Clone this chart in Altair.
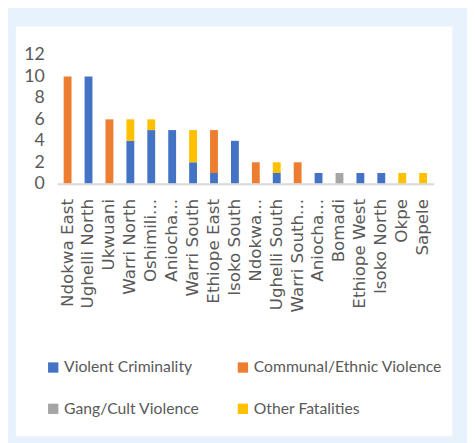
import altair as alt
import pandas as pd

categories = ["Ndokwa East", "Ughelli North", "Ukwuani", "Warri North", "Oshimili South",
              "Aniocha North", "Warri South", "Ethiope East", "Isoko South", "Ndokwa West",
              "Ughelli South", "Warri South West", "Aniocha South", "Bomadi", "Ethiope West",
              "Isoko North", "Okpe", "Sapele"]
tick_labels = ["Ndokwa East", "Ughelli North", "Ukwuani", "Warri North", "Oshimili...",
               "Aniocha...", "Warri South", "Ethiope East", "Isoko South", "Ndokwa...",
               "Ughelli South", "Warri South...", "Aniocha...", "Bomadi", "Ethiope West",
               "Isoko North", "Okpe", "Sapele"]
series = ["Violent Criminality", "Communal/Ethnic Violence", "Gang/Cult Violence", "Other Fatalities"]
violent = [0, 10, 0, 4, 5, 5, 2, 1, 4, 0, 1, 0, 1, 0, 1, 1, 0, 0]
communal = [10, 0, 6, 0, 0, 0, 0, 4, 0, 2, 0, 2, 0, 0, 0, 0, 0, 0]
gang = [0, 0, 0, 0, 0, 0, 0, 0, 0, 0, 0, 0, 0, 1, 0, 0, 0, 0]
other = [0, 0, 0, 2, 1, 0, 3, 0, 0, 0, 1, 0, 0, 0, 0, 0, 1, 1]
colors = ["#4472C4", "#ED7D31", "#A5A5A5", "#FFC000"]

rows = []
for i, c in enumerate(categories):
    for k, (s, vals) in enumerate(zip(series, [violent, communal, gang, other])):
        rows.append({"district": c, "series": s, "value": vals[i], "order": k})
df = pd.DataFrame(rows)

label_map = "{" + ",".join(f"'{c}':'{t}'" for c, t in zip(categories, tick_labels)) + "}"

panel = alt.Chart(pd.DataFrame({"a": [0]})).mark_rect(color="white").encode(
    x=alt.value(-42), x2=alt.value(402), y=alt.value(-29), y2=alt.value(388)
)

bars = alt.Chart(df).mark_bar(width=8).encode(
    x=alt.X("district:N", sort=categories, title=None,
            scale=alt.Scale(paddingInner=0.6, paddingOuter=0.3),
            axis=alt.Axis(labelAngle=270, labelExpr=f"{label_map}[datum.value]",
                          labelFont="DejaVu Sans", labelFontSize=17, labelColor="#595959",
                          labelPadding=15, ticks=False, domainColor="#D9D9D9",
                          domainWidth=2, labelLimit=200, zindex=1)),
    y=alt.Y("value:Q", title=None, stack="zero",
            scale=alt.Scale(domain=[0, 12]),
            axis=alt.Axis(values=[0, 2, 4, 6, 8, 10, 12], grid=False, domain=False,
                          ticks=False, labelFont="Lato", labelFontSize=18,
                          labelColor="#595959", labelPadding=13, zindex=1)),
    color=alt.Color("series:N", sort=series,
                    scale=alt.Scale(domain=series, range=colors),
                    legend=alt.Legend(title=None, orient="none", legendX=-12, legendY=310,
                                      direction="horizontal",
                                      columns=2, symbolType="square", symbolSize=110,
                                      symbolStrokeWidth=0, labelFont="Lato",
                                      labelFontSize=16, labelColor="#595959",
                                      columnPadding=36, rowPadding=26, labelOffset=3,
                                      labelLimit=300)),
    order=alt.Order("order:Q"),
)

chart = alt.layer(panel, bars).properties(
    width=383, height=131,
    autosize=alt.AutoSizeParams(type="none"),
    padding={"left": 50, "top": 44, "right": 34, "bottom": 260},
    background="#E8F2FC",
).configure_view(stroke=None)

chart.save("out.html", embed_options={"renderer": "svg", "actions": False})
